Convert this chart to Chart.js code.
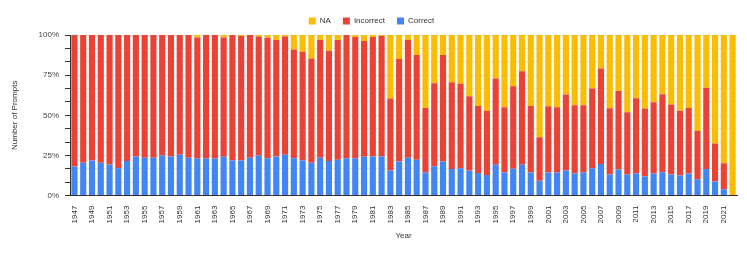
<!DOCTYPE html>
<html>
<head>
<meta charset="utf-8">
<script src="https://cdn.jsdelivr.net/npm/chart.js@4.4.0/dist/chart.umd.min.js"></script>
<style>
  html, body { margin: 0; padding: 0; background: #fff; }
  #wrap { width: 747px; height: 253px; }
</style>
</head>
<body>
<div id="wrap"><canvas id="promptChart" width="747" height="253"></canvas></div>
<script>
var years = [];
for (var y = 1947; y <= 2022; y++) years.push(String(y));

// share of prompts per year, in percent
var correct = [18.1, 20.4, 21.9, 20.4, 19.4, 17.1, 21.5, 24.4, 23.5, 23.5,
  25.0, 24.4, 25.4, 23.5, 23.1, 23.1, 23.1, 24.2, 21.9, 21.9,
  23.5, 25.0, 23.3, 24.4, 25.4, 23.3, 21.9, 20.4, 23.5, 21.5,
  22.3, 23.3, 23.3, 24.2, 24.4, 24.4, 15.6, 21.3, 23.5, 22.3,
  14.4, 18.3, 21.3, 16.5, 17.1, 15.6, 14.0, 12.9, 19.2, 14.4,
  16.7, 19.2, 14.4, 9.2, 14.4, 14.4, 15.6, 13.8, 14.6, 17.1,
  19.6, 13.1, 16.3, 13.1, 13.8, 11.9, 13.8, 14.6, 13.1, 12.5,
  13.8, 10.2, 16.5, 8.8, 4.0, 0];

var incorrect = [81.9, 79.6, 78.1, 79.6, 80.6, 82.9, 78.5, 75.6, 76.5, 76.5,
  75.0, 75.6, 74.6, 76.5, 75.4, 76.9, 76.9, 74.3, 78.1, 77.5,
  76.5, 74.0, 75.0, 72.5, 73.6, 67.7, 67.7, 65.0, 73.4, 68.7,
  74.6, 76.7, 75.5, 72.1, 74.4, 75.0, 44.8, 63.7, 73.4, 65.2,
  40.2, 51.7, 66.2, 54.1, 52.5, 46.3, 41.8, 40.0, 53.7, 40.6,
  51.4, 58.3, 41.4, 27.1, 41.2, 40.6, 47.3, 42.5, 41.7, 49.6,
  59.6, 41.3, 48.9, 38.8, 46.8, 42.3, 44.3, 48.5, 43.6, 40.4,
  40.8, 30.0, 50.6, 23.7, 16.2, 0.6];

var na = [0, 0, 0, 0, 0, 0, 0, 0, 0, 0,
  0, 0, 0, 0, 1.5, 0, 0, 1.5, 0, 0.6,
  0, 1.0, 1.7, 3.1, 1.0, 9.0, 10.4, 14.6, 3.1, 9.8,
  3.1, 0, 1.2, 3.7, 1.2, 0.6, 39.6, 15.0, 3.1, 12.5,
  45.4, 30.0, 12.5, 29.4, 30.4, 38.1, 44.2, 47.1, 27.1, 45.0,
  31.9, 22.5, 44.2, 63.7, 44.4, 45.0, 37.1, 43.7, 43.7, 33.3,
  20.8, 45.6, 34.8, 48.1, 39.4, 45.8, 41.9, 36.9, 43.3, 47.1,
  45.4, 59.8, 32.9, 67.5, 79.8, 99.4];

var yTicks = [0, 25, 50, 75, 100];

var font = { family: 'Liberation Sans, Arial, sans-serif', size: 8 };
Chart.defaults.font.family = font.family;
Chart.defaults.font.size = 8;
Chart.defaults.color = '#444';

var ctx = document.getElementById('promptChart').getContext('2d');
var promptChart = new Chart(ctx, {
  type: 'bar',
  data: {
    labels: years,
    datasets: [
      { label: 'Correct', data: correct, backgroundColor: '#4285F4' },
      { label: 'Incorrect', data: incorrect, backgroundColor: '#EA4335' },
      { label: 'NA', data: na, backgroundColor: '#FBBC04' }
    ]
  },
  options: {
    responsive: false,
    animation: false,
    layout: { padding: { top: 5, right: 10, left: 6, bottom: 8 } },
    datasets: { bar: { barPercentage: 0.7, categoryPercentage: 1.0 } },
    plugins: {
      legend: {
        position: 'top',
        reverse: true,
        labels: { boxWidth: 7, boxHeight: 7, padding: 12, font: font, color: '#333' }
      },
      tooltip: { enabled: false }
    },
    scales: {
      x: {
        stacked: true,
        grid: { display: false },
        border: { display: true, color: '#333' },
        title: { display: true, text: 'Year', font: font, color: '#333', padding: { top: 6 } },
        ticks: {
          autoSkip: false,
          minRotation: 90,
          maxRotation: 90,
          padding: 2,
          font: font,
          color: '#333',
          callback: function (v, i) { return i % 2 === 0 ? years[i] : ''; }
        }
      },
      y: {
        stacked: true,
        min: 0,
        max: 100,
        afterBuildTicks: function (axis) {
          var t = [];
          for (var i = 0; i <= 12; i++) t.push({ value: i * 100 / 12 });
          axis.ticks = t;
        },
        grid: { color: '#e6e6e6', tickColor: '#333', tickLength: 5 },
        border: { display: true, color: '#333' },
        title: { display: true, text: 'Number of Prompts', font: font, color: '#333', padding: { top: 4, bottom: 13 } },
        ticks: {
          font: font,
          color: '#444',
          padding: 6,
          callback: function (v) {
            var r = Math.round(v);
            return (Math.abs(v - r) < 0.01 && yTicks.indexOf(r) >= 0) ? r + '%' : '';
          }
        }
      }
    }
  }
});
</script>
</body>
</html>
